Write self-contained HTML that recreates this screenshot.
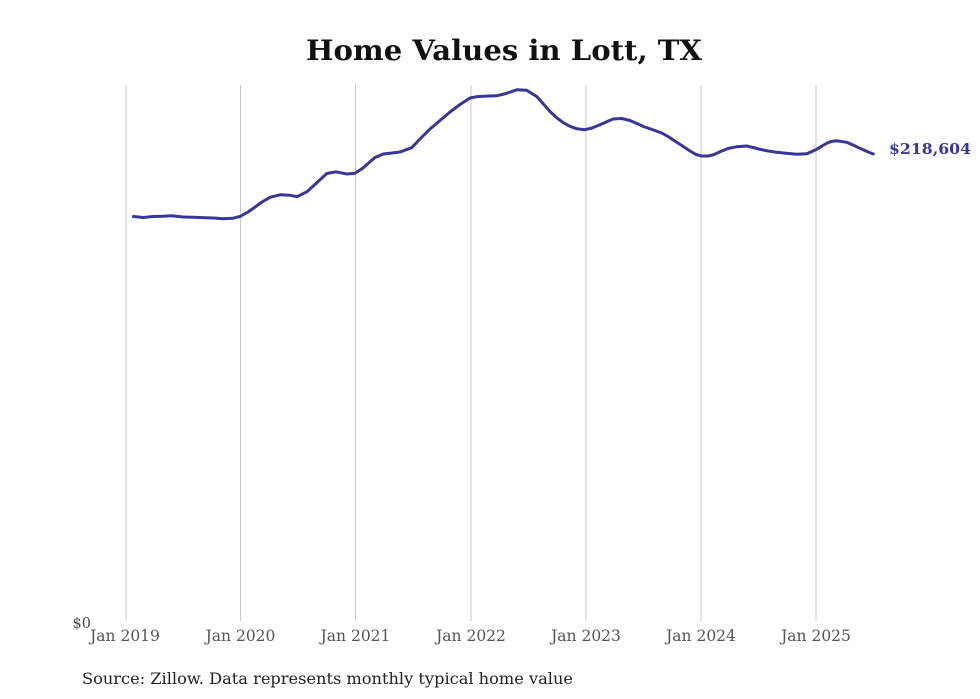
<!DOCTYPE html>
<html>
<head>
<meta charset="utf-8">
<style>
html,body{margin:0;padding:0;background:#fff;}
svg{display:block;}
</style>
</head>
<body>
<svg width="980" height="699" viewBox="0 0 980 699" xmlns="http://www.w3.org/2000/svg">
<rect width="980" height="699" fill="#fff"/>
<text x="504" y="60" text-anchor="middle" font-family="'DejaVu Serif','Liberation Serif',serif" font-weight="bold" font-size="28" fill="#111" textLength="396" lengthAdjust="spacingAndGlyphs">Home Values in Lott, TX</text>
<g stroke="#c8c8c8" stroke-width="1">
<line x1="126" y1="85" x2="126" y2="621"/>
<line x1="240.5" y1="85" x2="240.5" y2="621"/>
<line x1="355.5" y1="85" x2="355.5" y2="621"/>
<line x1="471" y1="85" x2="471" y2="621"/>
<line x1="586" y1="85" x2="586" y2="621"/>
<line x1="701" y1="85" x2="701" y2="621"/>
<line x1="816" y1="85" x2="816" y2="621"/>
</g>
<g font-family="'DejaVu Serif','Liberation Serif',serif" font-size="15.5" fill="#555" text-anchor="middle">
<text x="125" y="641">Jan 2019</text>
<text x="240.5" y="641">Jan 2020</text>
<text x="355.5" y="641">Jan 2021</text>
<text x="471" y="641">Jan 2022</text>
<text x="586" y="641">Jan 2023</text>
<text x="701" y="641">Jan 2024</text>
<text x="816" y="641">Jan 2025</text>
</g>
<text x="91" y="628" text-anchor="end" font-family="'DejaVu Serif','Liberation Serif',serif" font-size="14.5" fill="#444">$0</text>
<polyline fill="none" stroke="#3a3597" stroke-width="3" stroke-linejoin="round" stroke-linecap="round" points="133.5,216.5 143.5,217.5 153,216.5 163,216.3 172,215.8 183,217 193,217.3 206,217.8 214,218 223,218.8 233,218.2 240,216.5 248,212 253,208.5 262,202 270,197.3 280,194.8 290,195.3 297,196.7 307,191.7 316,183.5 326.7,173.5 336,171.8 346.7,174 355,173.3 363,168 370,161.7 375,157.5 383.3,154 392,153 400,152 411.7,147.7 420,139 430,129 440,120.5 450,112 460,104.5 470,98 476,96.8 483.3,96.3 496.7,95.8 506,93.5 516.7,89.8 526.7,90.3 536.7,96.5 543,103.5 550,111.5 557,118 563.3,122.7 570,126.3 576.7,128.7 585,129.7 592,128 600,124.7 606.7,121.7 613,119 621.7,118.5 630,120.5 637,123.5 643.3,126.5 652,129.5 661.7,133 668,136.5 673.3,140 681,145 690,151 696,154.5 701.7,156 708.3,156 714,154.5 720,151.8 728,148.5 736.7,146.7 746.7,146 753,147.5 760,149.3 768,151 776.7,152.3 786,153.2 796.7,154.3 806.7,153.7 812,151.5 816.7,149.3 822,146 826.7,143.3 831,141.5 836.7,140.8 846.7,142.3 853,145 860,148.3 867,151.5 873.3,154"/>
<text x="889" y="154" font-family="'DejaVu Serif','Liberation Serif',serif" font-weight="bold" font-size="15" fill="#3a3597" textLength="82" lengthAdjust="spacingAndGlyphs">$218,604</text>
<text x="82" y="684" font-family="'DejaVu Serif','Liberation Serif',serif" font-size="16" fill="#222" textLength="491" lengthAdjust="spacingAndGlyphs">Source: Zillow. Data represents monthly typical home value</text>
</svg>
</body>
</html>
